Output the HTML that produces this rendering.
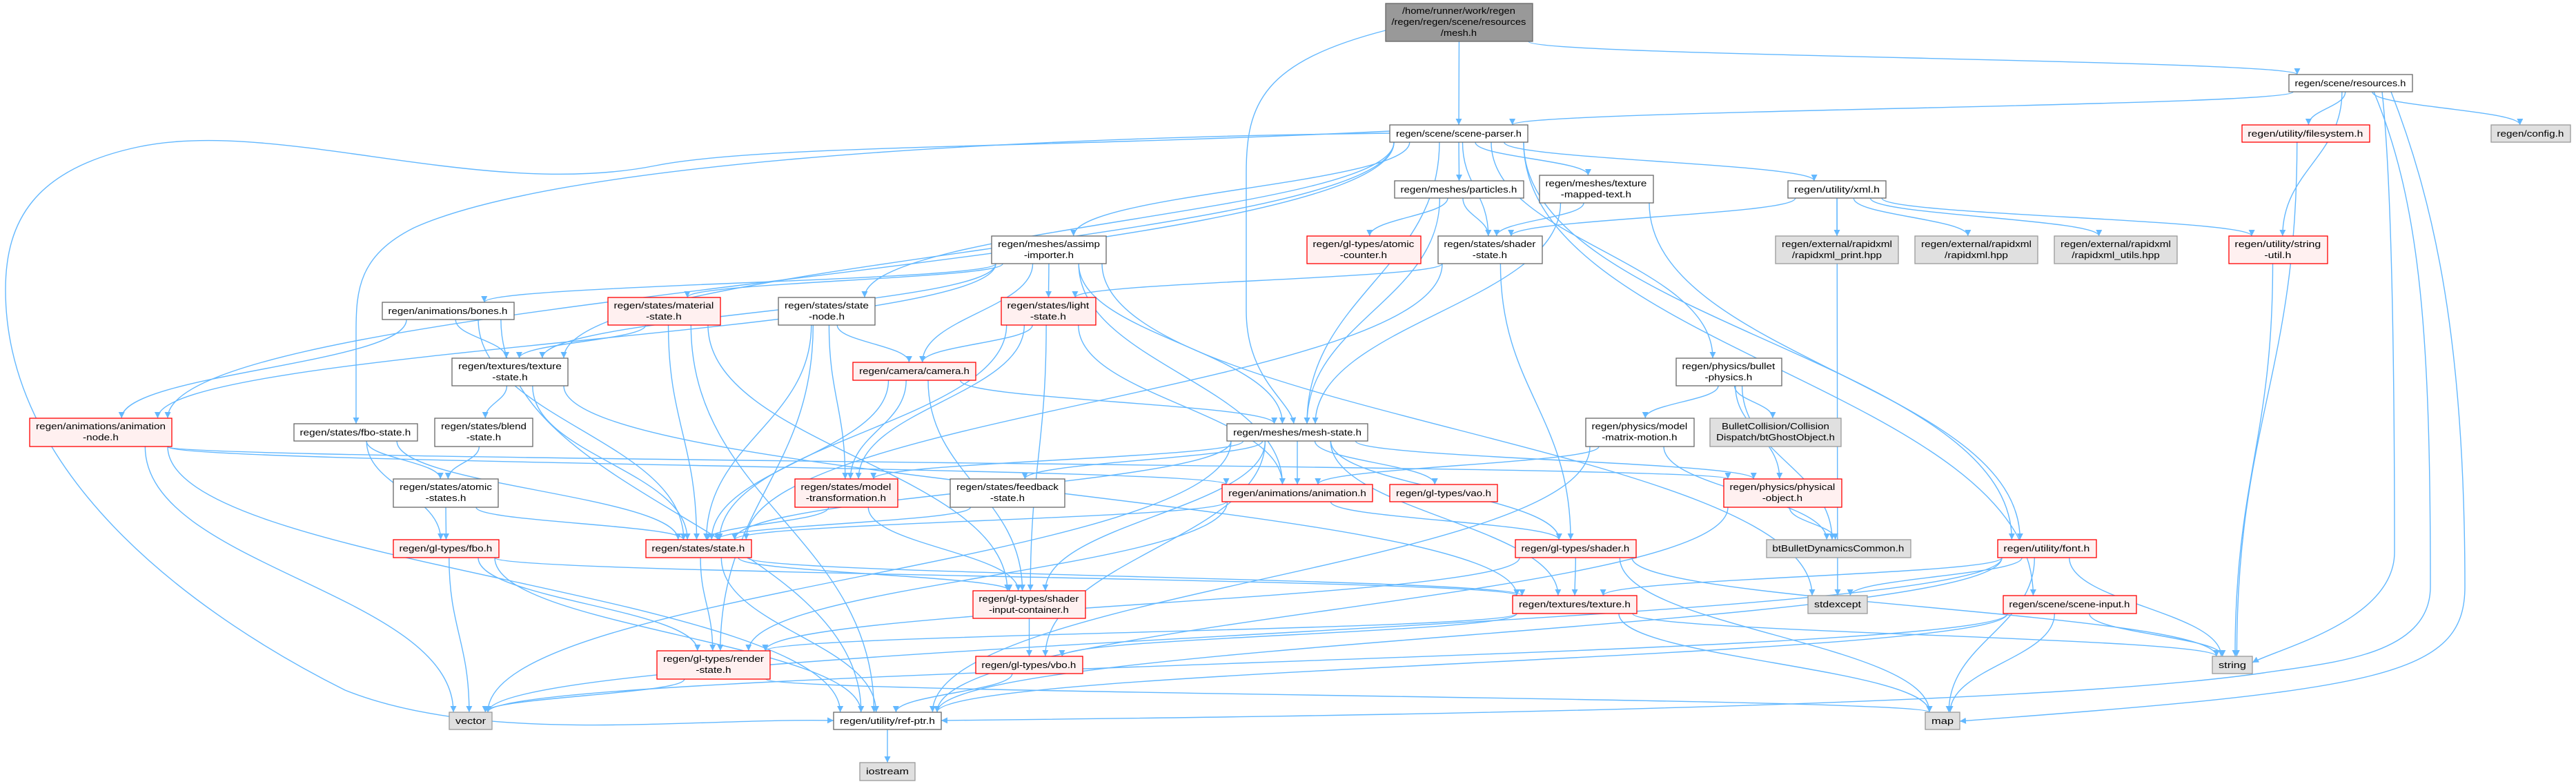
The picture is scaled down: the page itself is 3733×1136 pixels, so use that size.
<!DOCTYPE html>
<html><head><meta charset="utf-8"><style>
html,body{margin:0;padding:0;background:#fff;width:3733px;height:1136px;overflow:hidden}
svg{display:block}
text{font-family:"Liberation Sans",sans-serif;font-size:12.5px;fill:#000;text-anchor:middle}
.w{fill:#fff;stroke:#666;stroke-width:1.3}
.r{fill:#fff0f0;stroke:#f00;stroke-width:1.3}
.s{fill:#e0e0e0;stroke:#999;stroke-width:1.3}
.m{fill:#999;stroke:#666;stroke-width:1.3}
.e{fill:none;stroke:#63b8ff;stroke-width:1.4}
</style></head><body>
<svg id="sv" width="3733" height="1136" viewBox="0 0 3733 1136" xmlns="http://www.w3.org/2000/svg">
<defs><marker id="ar" viewBox="0 0 10 10" refX="10" refY="5" markerWidth="9" markerHeight="9" markerUnits="userSpaceOnUse" orient="auto"><path d="M0,0L10,5L0,10z" fill="#63b8ff"/></marker></defs>
<g id="edges"></g>
<g id="nodes">
<g class="n" id="A"><rect class="m" x="2008" y="5" width="213" height="55"/><text x="2114" y="20">/home/runner/work/regen</text><text x="2114" y="36">/regen/regen/scene/resources</text><text x="2114" y="52">/mesh.h</text></g>
<g class="n" id="B"><rect class="w" x="3317" y="108" width="179" height="25"/><text x="3406" y="125">regen/scene/resources.h</text></g>
<g class="n" id="C"><rect class="w" x="2014" y="181" width="200" height="25"/><text x="2114" y="198">regen/scene/scene-parser.h</text></g>
<g class="n" id="D"><rect class="r" x="3249" y="181" width="185" height="25"/><text x="3341" y="198">regen/utility/filesystem.h</text></g>
<g class="n" id="E"><rect class="s" x="3610" y="181" width="115" height="25"/><text x="3667" y="198">regen/config.h</text></g>
<g class="n" id="F"><rect class="w" x="2021" y="262" width="187" height="25"/><text x="2114" y="279">regen/meshes/particles.h</text></g>
<g class="n" id="G"><rect class="w" x="2231" y="254" width="165" height="40"/><text x="2313" y="270">regen/meshes/texture</text><text x="2313" y="286">-mapped-text.h</text></g>
<g class="n" id="H"><rect class="w" x="2591" y="262" width="142" height="25"/><text x="2662" y="279">regen/utility/xml.h</text></g>
<g class="n" id="I"><rect class="w" x="1437" y="342" width="166" height="40"/><text x="1520" y="358">regen/meshes/assimp</text><text x="1520" y="374">-importer.h</text></g>
<g class="n" id="J"><rect class="r" x="1894" y="342" width="165" height="40"/><text x="1976" y="358">regen/gl-types/atomic</text><text x="1976" y="374">-counter.h</text></g>
<g class="n" id="K"><rect class="w" x="2084" y="342" width="151" height="40"/><text x="2159" y="358">regen/states/shader</text><text x="2159" y="374">-state.h</text></g>
<g class="n" id="L"><rect class="s" x="2573" y="342" width="178" height="40"/><text x="2662" y="358">regen/external/rapidxml</text><text x="2662" y="374">/rapidxml_print.hpp</text></g>
<g class="n" id="M"><rect class="s" x="2775" y="342" width="178" height="40"/><text x="2864" y="358">regen/external/rapidxml</text><text x="2864" y="374">/rapidxml.hpp</text></g>
<g class="n" id="N"><rect class="s" x="2977" y="342" width="178" height="40"/><text x="3066" y="358">regen/external/rapidxml</text><text x="3066" y="374">/rapidxml_utils.hpp</text></g>
<g class="n" id="O"><rect class="r" x="3230" y="342" width="143" height="40"/><text x="3301" y="358">regen/utility/string</text><text x="3301" y="374">-util.h</text></g>
<g class="n" id="P"><rect class="w" x="554" y="438" width="191" height="25"/><text x="649" y="455">regen/animations/bones.h</text></g>
<g class="n" id="Q"><rect class="r" x="881" y="431" width="163" height="40"/><text x="962" y="447">regen/states/material</text><text x="962" y="463">-state.h</text></g>
<g class="n" id="R"><rect class="w" x="1128" y="431" width="140" height="40"/><text x="1198" y="447">regen/states/state</text><text x="1198" y="463">-node.h</text></g>
<g class="n" id="S"><rect class="r" x="1451" y="431" width="137" height="40"/><text x="1519" y="447">regen/states/light</text><text x="1519" y="463">-state.h</text></g>
<g class="n" id="T"><rect class="w" x="655" y="519" width="168" height="40"/><text x="739" y="535">regen/textures/texture</text><text x="739" y="551">-state.h</text></g>
<g class="n" id="U"><rect class="r" x="1236" y="525" width="178" height="26"/><text x="1325" y="542">regen/camera/camera.h</text></g>
<g class="n" id="V"><rect class="w" x="2429" y="519" width="153" height="40"/><text x="2505" y="535">regen/physics/bullet</text><text x="2505" y="551">-physics.h</text></g>
<g class="n" id="W"><rect class="r" x="43" y="606" width="206" height="41"/><text x="146" y="622">regen/animations/animation</text><text x="146" y="638">-node.h</text></g>
<g class="n" id="X"><rect class="w" x="426" y="614" width="179" height="25"/><text x="515" y="631">regen/states/fbo-state.h</text></g>
<g class="n" id="Y"><rect class="w" x="630" y="606" width="142" height="41"/><text x="701" y="622">regen/states/blend</text><text x="701" y="638">-state.h</text></g>
<g class="n" id="Z"><rect class="w" x="1778" y="614" width="204" height="25"/><text x="1880" y="631">regen/meshes/mesh-state.h</text></g>
<g class="n" id="a"><rect class="w" x="2298" y="606" width="157" height="41"/><text x="2376" y="622">regen/physics/model</text><text x="2376" y="638">-matrix-motion.h</text></g>
<g class="n" id="b"><rect class="s" x="2478" y="606" width="190" height="41"/><text x="2573" y="622">BulletCollision/Collision</text><text x="2573" y="638">Dispatch/btGhostObject.h</text></g>
<g class="n" id="c"><rect class="w" x="570" y="694" width="152" height="41"/><text x="646" y="710">regen/states/atomic</text><text x="646" y="726">-states.h</text></g>
<g class="n" id="d"><rect class="r" x="1152" y="694" width="149" height="41"/><text x="1226" y="710">regen/states/model</text><text x="1226" y="726">-transformation.h</text></g>
<g class="n" id="e"><rect class="w" x="1377" y="694" width="166" height="41"/><text x="1460" y="710">regen/states/feedback</text><text x="1460" y="726">-state.h</text></g>
<g class="n" id="f"><rect class="r" x="1771" y="702" width="218" height="25"/><text x="1880" y="719">regen/animations/animation.h</text></g>
<g class="n" id="g"><rect class="r" x="2014" y="702" width="156" height="25"/><text x="2092" y="719">regen/gl-types/vao.h</text></g>
<g class="n" id="h"><rect class="r" x="2498" y="694" width="171" height="41"/><text x="2583" y="710">regen/physics/physical</text><text x="2583" y="726">-object.h</text></g>
<g class="n" id="i"><rect class="r" x="570" y="782" width="153" height="26"/><text x="646" y="799">regen/gl-types/fbo.h</text></g>
<g class="n" id="j"><rect class="r" x="936" y="782" width="153" height="26"/><text x="1012" y="799">regen/states/state.h</text></g>
<g class="n" id="k"><rect class="r" x="2196" y="782" width="175" height="26"/><text x="2283" y="799">regen/gl-types/shader.h</text></g>
<g class="n" id="l"><rect class="s" x="2560" y="782" width="209" height="26"/><text x="2664" y="799">btBulletDynamicsCommon.h</text></g>
<g class="n" id="m"><rect class="r" x="2895" y="782" width="143" height="26"/><text x="2966" y="799">regen/utility/font.h</text></g>
<g class="n" id="n"><rect class="r" x="1410" y="856" width="163" height="40"/><text x="1491" y="872">regen/gl-types/shader</text><text x="1491" y="888">-input-container.h</text></g>
<g class="n" id="o"><rect class="r" x="2192" y="863" width="180" height="26"/><text x="2282" y="880">regen/textures/texture.h</text></g>
<g class="n" id="p"><rect class="s" x="2620" y="863" width="86" height="26"/><text x="2663" y="880">stdexcept</text></g>
<g class="n" id="q"><rect class="r" x="2903" y="863" width="193" height="26"/><text x="2999" y="880">regen/scene/scene-input.h</text></g>
<g class="n" id="r"><rect class="r" x="952" y="943" width="164" height="41"/><text x="1034" y="959">regen/gl-types/render</text><text x="1034" y="975">-state.h</text></g>
<g class="n" id="s"><rect class="r" x="1414" y="951" width="155" height="25"/><text x="1491" y="968">regen/gl-types/vbo.h</text></g>
<g class="n" id="t"><rect class="s" x="3206" y="951" width="58" height="25"/><text x="3235" y="968">string</text></g>
<g class="n" id="u"><rect class="s" x="651" y="1032" width="62" height="25"/><text x="682" y="1049">vector</text></g>
<g class="n" id="v"><rect class="w" x="1208" y="1032" width="156" height="25"/><text x="1286" y="1049">regen/utility/ref-ptr.h</text></g>
<g class="n" id="w"><rect class="s" x="2790" y="1032" width="50" height="25"/><text x="2815" y="1049">map</text></g>
<g class="n" id="x"><rect class="s" x="1246" y="1105" width="80" height="26"/><text x="1286" y="1122">iostream</text></g>
</g>
</svg>
<script>
(function(){
var E="A>C A>B B>C B>D B>E B>O D>t O>t "+
"C>F C>G C>H C>I C>V C>q C>m C>Z C>R C>W C>T C>K "+
"H>L H>M H>N H>O H>K H>p "+
"F>J F>K F>Z G>K G>m G>Z "+
"I>S I>U I>P I>Q I>T I>W I>Z I>f I>p "+
"K>S K>j K>k S>U S>d S>f S>n S>j "+
"Q>T Q>j Q>n Q>v R>U R>d R>j R>r "+
"P>T P>W P>j P>v T>Y T>j T>o "+
"U>Z U>d U>n U>j W>f W>u W>v W>h "+
"X>c X>i X>j Y>c c>i c>j "+
"i>o i>r i>u i>v j>n j>o j>r j>v "+
"Z>d Z>e Z>f Z>g Z>k Z>n Z>s Z>o Z>j Z>h Z>u "+
"V>a V>b V>h V>l a>f a>l a>v h>l h>v "+
"f>k f>j f>r d>j d>n e>j "+
"k>o k>r k>t k>w n>s o>r o>s o>w o>t "+
"m>o m>p m>w m>t m>v m>u q>t q>w q>v q>u "+
"r>u r>w s>v v>x";
var custom=[
"M2008,44 C1830,90 1806,150 1806,250 L1806,450 C1806,550 1870,580 1875,614",
"M3452,133 C3470,300 3470,700 3470,800 C3470,900 3300,940 3264,960",
"M3465,133 C3530,300 3572,500 3572,850 C3572,980 3450,1000 2840,1045",
"M3440,133 C3510,300 3522,500 3522,850 C3522,950 3380,960 3280,975 C2900,1030 1700,1040 1364,1044",
"M2014,190 C1500,215 1100,210 950,240 C700,290 400,170 200,213 C50,245 8,320 8,420 C8,700 300,900 500,1000 C700,1080 1000,1040 1208,1044",
"M2014,193 C1400,200 800,240 600,330 C520,370 516,420 516,480 L516,614"
];
var NS="http://www.w3.org/2000/svg";
function bb(id){var r=document.getElementById(id).querySelector('rect');
 var x=+r.getAttribute('x'),y=+r.getAttribute('y'),w=+r.getAttribute('width'),h=+r.getAttribute('height');
 return {x1:x,y1:y,x2:x+w,y2:y+h,cx:x+w/2,cy:y+h/2};}
var eg=document.getElementById('edges');
function add(d){var pa=document.createElementNS(NS,'path');pa.setAttribute('d',d);pa.setAttribute('class','e');pa.setAttribute('marker-end','url(#ar)');eg.appendChild(pa);}
custom.forEach(add);
E.trim().split(/\s+/).forEach(function(p){
 var s=bb(p[0]),t=bb(p[2]),d;
 if(t.y1>=s.y2-2){
  var sx=s.cx+(t.cx-s.cx)*0.12; sx=Math.max(s.x1+6,Math.min(s.x2-6,sx));
  var tx=t.cx+(s.cx-t.cx)*0.06; tx=Math.max(t.x1+6,Math.min(t.x2-6,tx));
  var sy=s.y2,ty=t.y1,dy=ty-sy;
  d="M"+sx+","+sy+" C"+sx+","+(sy+dy*0.45)+" "+tx+","+(ty-dy*0.45)+" "+tx+","+ty;
 } else {
  var left=t.cx<s.cx;
  var sx2=left?s.x1:s.x2, tx2=left?t.x2:t.x1, sy2=s.cy, ty2=t.cy;
  d="M"+sx2+","+sy2+" C"+((sx2+tx2)/2)+","+sy2+" "+((sx2+tx2)/2)+","+ty2+" "+tx2+","+ty2;
 }
 add(d);
});
Array.prototype.forEach.call(document.querySelectorAll('g.n'),function(g){
 var b=bb(g.id),ts=g.querySelectorAll('text'),mx=0;
 Array.prototype.forEach.call(ts,function(t){mx=Math.max(mx,t.getComputedTextLength());});
 if(!mx)return;var f=(b.x2-b.x1-18)/mx; if(f>1.45)f=1.45; if(f<0.6)f=0.6;
 Array.prototype.forEach.call(ts,function(t){t.setAttribute('transform','translate('+b.cx+',0) scale('+f+',1) translate('+(-b.cx)+',0)');});
});
})();
</script>
</body></html>
